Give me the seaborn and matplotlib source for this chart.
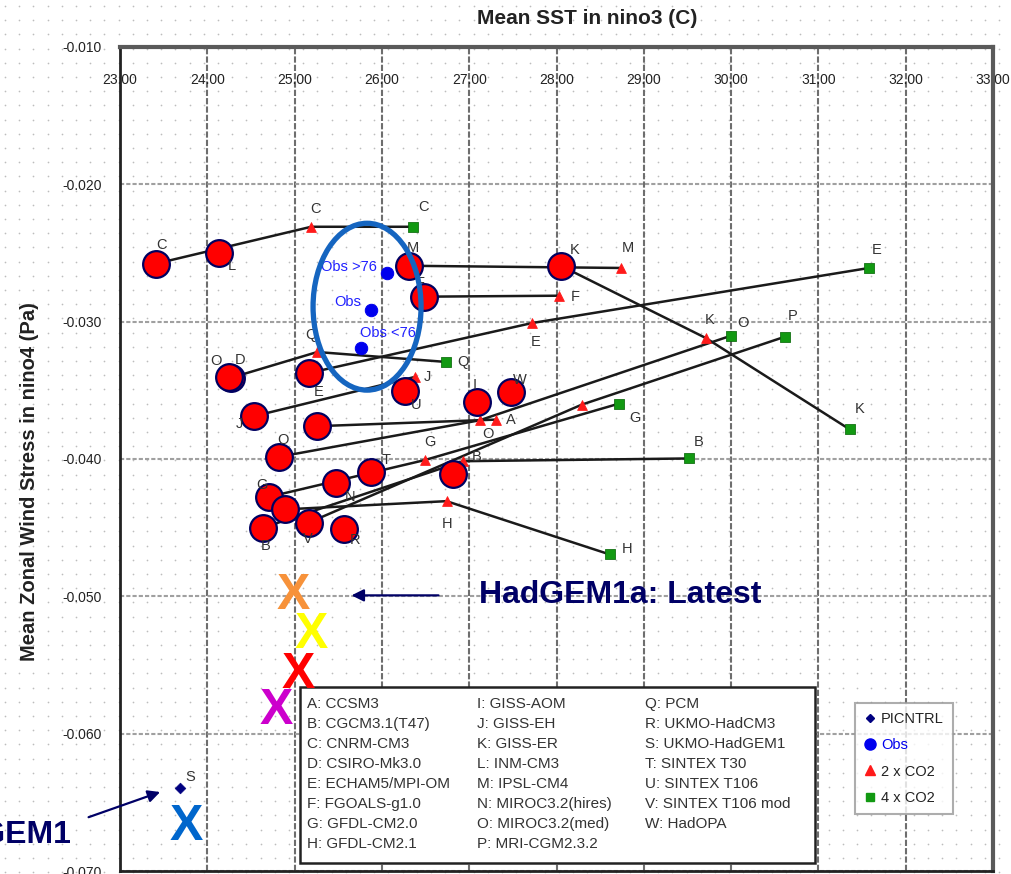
import numpy as np
import matplotlib
matplotlib.use("Agg")
import matplotlib.pyplot as plt
import seaborn as sns
from matplotlib.patches import Ellipse, Rectangle
from matplotlib.lines import Line2D
from matplotlib.ticker import FormatStrFormatter

# estilo base
sns.set_style("white")
plt.rcParams['font.family'] = ['Liberation Sans', 'DejaVu Sans']
plt.rcParams['axes.unicode_minus'] = False

# PICNTRL (controle) - destacados com circulos vermelhos
ctrl_x = [23.41, 24.13, 24.27, 25.17, 26.26, 24.53, 25.26, 24.82, 27.09, 27.48, 26.82,
          25.88, 25.47, 24.71, 24.89, 24.64, 25.16, 25.57, 26.31, 26.48, 28.05, 24.25]
ctrl_y = [-0.02578, -0.02498, -0.03409, -0.03373, -0.03502, -0.03689, -0.03761, -0.03984,
          -0.03584, -0.03511, -0.04107, -0.04093, -0.04178, -0.04275, -0.04367, -0.04500,
          -0.04464, -0.04508, -0.02593, -0.02818, -0.02593, -0.03400]
ctrl_lab = ["C", "L", "D", "E", "U", "J", "", "O", "I", "W", "", "T", "N", "G", "",
            "B", "V", "R", "M", "F", "K", "O"]

# 2 x CO2
tri_x = [25.19, 28.74, 28.03, 27.72, 29.71, 25.26, 26.38, 27.31, 27.12, 28.29, 26.49, 26.93, 26.74]
tri_y = [-0.02309, -0.02609, -0.02811, -0.03010, -0.03119, -0.03221, -0.03402, -0.03713,
         -0.03718, -0.03604, -0.04008, -0.04016, -0.04307]
tri_lab = ["C", "M", "F", "E", "K", "Q", "J", "A", "O", "", "G", "B", "H"]

# 4 x CO2
sq_x = [26.36, 31.58, 31.36, 30.00, 30.62, 26.73, 28.72, 29.52, 28.61]
sq_y = [-0.02309, -0.02609, -0.03785, -0.03102, -0.03109, -0.03293, -0.03596, -0.03996, -0.04695]
sq_lab = ["C", "E", "K", "O", "P", "Q", "G", "B", "H"]

# ligacoes controle -> 2xCO2 -> 4xCO2 (-1 = ausente)
path_model = ["C", "M", "K", "F", "E", "Q", "J", "A", "O", "G", "P", "H", "B"]
path_ctrl = [0, 18, 20, 19, 3, 2, 5, 6, 7, 13, 16, 14, 15]
path_2x = [0, 1, 4, 2, 3, 5, 6, 7, 8, 10, 9, 12, 11]
path_4x = [0, -1, 2, -1, 1, 5, -1, -1, 3, 6, 4, 8, 7]

# observacoes
obs_x = [26.06, 25.88, 25.76]
obs_y = [-0.02644, -0.02913, -0.03189]
obs_lab = ["Obs >76", "Obs", "Obs <76"]

# HadGEM1 (PICNTRL visivel)
s_x = [23.69]
s_y = [-0.06398]

# marcas X coloridas
xm_x = [24.98, 25.19, 25.04, 24.79, 23.76]
xm_y = [-0.05000, -0.05284, -0.05575, -0.05836, -0.06680]
xm_cor = ["#f7923a", "#ffff00", "#ff0000", "#cc00cc", "#0066cc"]

modelos = [
    ["A: CCSM3", "B: CGCM3.1(T47)", "C: CNRM-CM3", "D: CSIRO-Mk3.0", "E: ECHAM5/MPI-OM",
     "F: FGOALS-g1.0", "G: GFDL-CM2.0", "H: GFDL-CM2.1"],
    ["I: GISS-AOM", "J: GISS-EH", "K: GISS-ER", "L: INM-CM3", "M: IPSL-CM4",
     "N: MIROC3.2(hires)", "O: MIROC3.2(med)", "P: MRI-CGM2.3.2"],
    ["Q: PCM", "R: UKMO-HadCM3", "S: UKMO-HadGEM1", "T: SINTEX T30", "U: SINTEX T106",
     "V: SINTEX T106 mod", "W: HadOPA"],
]

# deslocamentos dos rotulos (pixels)
ctrl_off = [(6, 19), (13, -13), (9, 18), (9, -19), (12, -14), (-14, -8), (0, 0), (4, 17),
            (-2, 17), (9, 12), (0, 0), (15, 12), (14, -14), (-7, 12), (0, 0), (2, -18),
            (-1, -16), (11, -11), (4, 18), (-4, 14), (14, 16), (-13, 16)]
tri_off = [(4, 18), (7, 20), (16, -1), (4, -19), (4, 18), (-6, 17), (12, 0), (15, 0),
           (8, -14), (0, 0), (5, 18), (14, 4), (1, -23)]
sq_off = [(10, 20), (8, 18), (10, 20), (12, 13), (7, 21), (17, 0), (16, -14), (9, 16), (17, 5)]

W, H = 1012, 874
fig = plt.figure(figsize=(W / 100, H / 100), dpi=100)

# fundo pontilhado do slide
bg = fig.add_axes([0, 0, 1, 1])
bg.set_xlim(0, W)
bg.set_ylim(H, 0)
bg.axis("off")
gx, gy = np.meshgrid(np.arange(5, W, 14.2), np.arange(6, H, 14.2))
bg.scatter(gx.ravel(), gy.ravel(), s=1.5, color="#bdbdbd", linewidths=0)

ax = fig.add_axes([120 / W, 3 / H, 873 / W, 824 / H])
ax.set_facecolor("none")
ax.set_xlim(23, 33)
ax.set_ylim(-0.070, -0.010)
ax.set_xticks(range(23, 34))
ax.set_yticks(np.round(np.arange(-0.070, -0.0099, 0.01), 3))
ax.xaxis.set_major_formatter(FormatStrFormatter("%.2f"))
ax.yaxis.set_major_formatter(FormatStrFormatter("%.3f"))
ax.tick_params(axis="x", bottom=False, labelbottom=False, top=True, labeltop=True,
               length=0, pad=-29, labelsize=10, labelcolor="#222")
ax.tick_params(axis="y", length=0, pad=13, labelsize=10, labelcolor="#222")
ax.xaxis.grid(True, color="#6e6e6e", lw=1.5, ls=(0, (3, 1)))
ax.yaxis.grid(True, color="#a0a0a0", lw=1.5, ls=(0, (2, 1)))
for lado in ["top", "right"]:
    ax.spines[lado].set_color("#5a5a5a")
    ax.spines[lado].set_linewidth(3)
for lado in ["left", "bottom"]:
    ax.spines[lado].set_color("#222")
    ax.spines[lado].set_linewidth(2)

# linhas de cada modelo
for m, c, t, q in zip(path_model, path_ctrl, path_2x, path_4x):
    xs = [ctrl_x[c]]
    ys = [ctrl_y[c]]
    if t >= 0:
        xs.append(tri_x[t]); ys.append(tri_y[t])
    if q >= 0:
        xs.append(sq_x[q]); ys.append(sq_y[q])
    ax.plot(xs, ys, color="#1a1a1a", lw=1.8, zorder=2)

# marcadores
sns.scatterplot(x=ctrl_x + s_x, y=ctrl_y + s_y, marker="D", s=30, color="#000080",
                edgecolor="#000080", ax=ax, zorder=3, legend=False)
sns.scatterplot(x=tri_x, y=tri_y, marker="^", s=50, color="#ff1a1a", edgecolor="#ff1a1a",
                ax=ax, zorder=3, legend=False)
sns.scatterplot(x=sq_x, y=sq_y, marker="s", s=48, color="#129912", edgecolor="#0b6b0b",
                ax=ax, zorder=3, legend=False)
sns.scatterplot(x=obs_x, y=obs_y, marker="o", s=80, color="#0000ee", edgecolor="#0000ee",
                ax=ax, zorder=3, legend=False)
sns.scatterplot(x=ctrl_x, y=ctrl_y, marker="o", s=370, color="#ff0000", edgecolor="#000060",
                linewidth=1.6, ax=ax, zorder=4, legend=False)

# rotulos das letras
def rotular(xs, ys, labs, offs):
    for x, y, lab, off in zip(xs, ys, labs, offs):
        if lab:
            ax.annotate(lab, (x, y), xytext=off, textcoords="offset pixels",
                        ha="center", va="center", fontsize=10.5, color="#333", zorder=5)

rotular(ctrl_x, ctrl_y, ctrl_lab, ctrl_off)
rotular(tri_x, tri_y, tri_lab, tri_off)
rotular(sq_x, sq_y, sq_lab, sq_off)
rotular(s_x, s_y, ["S"], [(10, 11)])

obs_off = [(-10, 6), (-10, 8), (-1, 15)]
obs_ha = ["right", "right", "left"]
for x, y, lab, off, ha in zip(obs_x, obs_y, obs_lab, obs_off, obs_ha):
    ax.annotate(lab, (x, y), xytext=off, textcoords="offset pixels", ha=ha, va="center",
                fontsize=10.5, color="#2020ff", zorder=5)

# elipse de destaque das observacoes
ax.add_patch(Ellipse((25.83, -0.02891), 1.237, 0.01215, fill=False, ec="#1565c0",
                     lw=3.8, zorder=6))

# marcas X
for x, y, cor in zip(xm_x, xm_y, xm_cor):
    ax.text(x, y, "X", color=cor, fontsize=36, fontweight="bold", ha="center",
            va="center", zorder=8)

# anotacoes com setas
navy = "#000066"
ax.annotate("", xy=(25.62, -0.04993), xytext=(26.68, -0.04993),
            arrowprops=dict(arrowstyle="-|>", color=navy, lw=1.6, mutation_scale=18), zorder=7)
ax.text(27.11, -0.04993, "HadGEM1a: Latest", color=navy, fontsize=23, fontweight="bold",
        ha="left", va="center", zorder=7)
ax.annotate("", xy=(23.49, -0.06418), xytext=(22.61, -0.06615), annotation_clip=False,
            arrowprops=dict(arrowstyle="-|>", color=navy, lw=1.6, mutation_scale=18), zorder=7)
fig.text(72 / W, 1 - 835 / H, "HadGEM1", color=navy, fontsize=23, fontweight="bold",
         ha="right", va="center")

# caixa com a lista de modelos
caixa = Rectangle((300 / W, 1 - 863 / H), 515 / W, 176 / H, transform=fig.transFigure,
                  fc="white", ec="#222", lw=1.8, zorder=6)
ax.add_patch(caixa)
caixa.set_clip_on(False)
col_x = [307, 477, 645]
for cx, coluna in zip(col_x, modelos):
    for i, txt in enumerate(coluna):
        ax.text(cx / W, 1 - (704 + 20 * i) / H, txt, transform=fig.transFigure,
                fontsize=11, color="#333", va="center", ha="left", zorder=7)

# legenda dos simbolos
handles = [
    Line2D([], [], marker="D", ls="none", color="#000080", markersize=4.5),
    Line2D([], [], marker="o", ls="none", color="#0000ee", markersize=8),
    Line2D([], [], marker="^", ls="none", color="#ff1a1a", markersize=7),
    Line2D([], [], marker="s", ls="none", color="#129912", markersize=6),
]
leg = fig.legend(handles, ["PICNTRL", "Obs", "2 x CO2", "4 x CO2"], loc="upper left",
                 bbox_to_anchor=(855 / W, 1 - 703 / H), frameon=True, fancybox=False,
                 edgecolor="#999", fontsize=10.5, handlelength=0.8, handletextpad=0.4,
                 labelspacing=0.85, borderpad=0.6, borderaxespad=0)
leg.get_frame().set_linewidth(1.5)
for t in leg.get_texts():
    t.set_color("#222")
leg.get_texts()[1].set_color("#0000ee")

# titulos
fig.text(587 / W, 1 - 18 / H, "Mean SST in nino3 (C)", fontsize=15, fontweight="bold",
         color="#222", ha="center", va="center")
ax.set_ylabel("Mean Zonal Wind Stress in nino4 (Pa)", fontsize=14.5, fontweight="bold",
              color="#222")
ax.yaxis.set_label_coords((39 - 120) / 873, (871 - 482) / 824)

fig.savefig("out.png", dpi=100)
